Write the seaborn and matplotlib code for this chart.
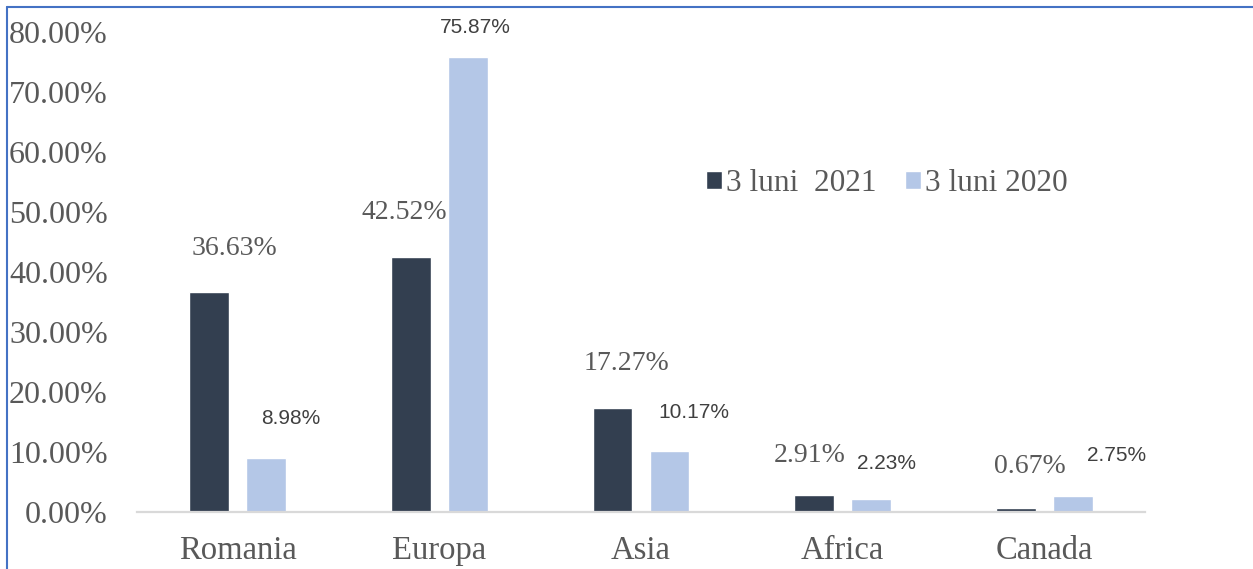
import matplotlib
matplotlib.use("Agg")
import numpy as np
import pandas as pd
import seaborn as sns
import matplotlib.pyplot as plt
from matplotlib.lines import Line2D

# data
regions = ["Romania", "Europa", "Asia", "Africa", "Canada"]
series = ["3 luni  2021", "3 luni 2020"]
vals_2021 = [36.63, 42.52, 17.27, 2.91, 0.67]
vals_2020 = [8.98, 75.87, 10.17, 2.23, 2.75]
yticks = [0, 10, 20, 30, 40, 50, 60, 70, 80]

# label nudges (pixels), as placed by hand in the original
dx_2021 = [25, -7, 14, -4, 14]
dy_2021 = [44, 44, 45, 39, 41]
dx_2020 = [25, 7, 24, 15, 44]
dy_2020 = [40, 29, 38, 35, 40]

df = pd.DataFrame({
    "region": regions * 2,
    "serie": [series[0]] * 5 + [series[1]] * 5,
    "val": vals_2021 + vals_2020,
})

sns.set_style("white")
serif = ["Liberation Serif", "DejaVu Serif"]
grey = "#595959"

fig = plt.figure(figsize=(12.53, 5.69), dpi=100)
ax = fig.add_axes([137 / 1253, 57 / 569, 1008 / 1253, 480 / 569])

sns.barplot(data=df, x="region", y="val", hue="serie", order=regions,
            hue_order=series, palette={series[0]: "#333F50", series[1]: "#B4C7E7"},
            width=0.564, gap=0.3, saturation=1, ax=ax, legend=True)

ax.set_ylim(0, 80)
ax.set_xlim(-0.5, 4.5)
ax.set_yticks(yticks)
ax.set_yticklabels(["%.2f%%" % t for t in yticks], fontfamily=serif,
                   fontsize=23, color=grey)
ax.set_xticks(range(len(regions)))
ax.set_xticklabels(regions, fontfamily=serif, fontsize=23.5, color=grey)
ax.tick_params(axis="y", length=0, pad=21)
ax.tick_params(axis="x", length=0, pad=17)
ax.set_xlabel("")
ax.set_ylabel("")
for s in ["top", "right", "left"]:
    ax.spines[s].set_visible(False)
ax.spines["bottom"].set_color("#D9D9D9")
ax.spines["bottom"].set_linewidth(1.6)

# etichete
for cont, vals, dxs, dys, fam, fs in [
        (ax.containers[0], vals_2021, dx_2021, dy_2021, serif, 20),
        (ax.containers[1], vals_2020, dx_2020, dy_2020,
         ["Liberation Sans", "DejaVu Sans"], 15)]:
    for b, v, dx, dy in zip(cont.patches, vals, dxs, dys):
        ax.annotate("%.2f%%" % v, (b.get_x() + b.get_width() / 2, b.get_height()),
                    xytext=(dx, dy), textcoords="offset pixels",
                    ha="center", va="center", fontfamily=fam, fontsize=fs,
                    color="#404040" if fs == 15 else grey, annotation_clip=False)

h, l = ax.get_legend_handles_labels()
ax.legend(h, l, loc="center", bbox_to_anchor=(0.744, 0.685), ncol=2,
          frameon=False, prop={"family": serif, "size": 22.5},
          labelcolor=grey, handlelength=0.5, handleheight=0.5,
          handletextpad=0.15, columnspacing=0.9)

# chenar albastru
fig.add_artist(Line2D([6.5 / 1253, 6.5 / 1253], [0, 1 - 7 / 569],
                      color="#4472C4", lw=1.5))
fig.add_artist(Line2D([6.5 / 1253, 1], [1 - 7 / 569, 1 - 7 / 569],
                      color="#4472C4", lw=1.5))

fig.savefig("out.png", dpi=100)
